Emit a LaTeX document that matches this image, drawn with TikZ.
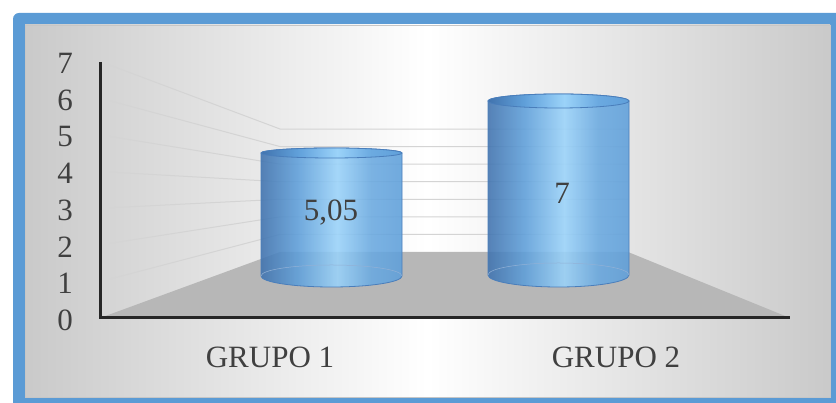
\documentclass[tikz,border=0pt]{standalone}
\usepackage{fontspec}
\setmainfont{Liberation Serif}
\usepackage{xcolor}
\usetikzlibrary{positioning}
\definecolor{FrameBlue}{HTML}{5B9BD5}
\definecolor{CylDark}{HTML}{3F72AE}
\definecolor{CylMid}{HTML}{5E9FDA}
\definecolor{CylLight}{HTML}{9AD3FA}
\definecolor{CylEdge}{HTML}{4A7EBB}
\definecolor{FloorGray}{HTML}{B7B7B7}
\definecolor{GridGray}{HTML}{D4D4D4}
\definecolor{TextDark}{HTML}{404040}
\pgfdeclarehorizontalshading{cylshade}{100bp}{color(0bp)=(CylDark); color(25bp)=(CylDark);
  color(38bp)=(CylMid); color(52bp)=(CylLight); color(64bp)=(CylMid!80!CylLight);
  color(75bp)=(CylMid); color(100bp)=(CylMid)}

\begin{document}
\begin{tikzpicture}[x=1pt,y=1pt,
    every node/.style={font=\fontsize{31}{36}\selectfont,text=TextDark,inner sep=0pt},
    gridln/.style={GridGray,line width=1pt},
    axisln/.style={black!85,line width=3pt},
    cyl/.style={shading=cylshade,draw=CylEdge,fill opacity=0.88,line width=0.8pt}]
  \clip (0,0) rectangle (836,403);
  \useasboundingbox (0,0) rectangle (836,403);
  % frame and panel
  \fill[FrameBlue,rounded corners=6pt] (13,-6) rectangle (842,390);
  \shade[left color=gray!42,right color=gray!42,middle color=white]
    (25,6) rectangle (830,378);
  \draw[gray!45,line width=0.6pt] (25,6) rectangle (830,378);
  % floor and walls
  \fill[FloorGray] (100,85) -- (280,151) -- (628,151) -- (790,85) -- cycle;
  \foreach \i in {1,...,7}
    \draw[gridln] (101,{85+36.6*\i}) -- (280,{151+17.57*\i}) -- (628,{151+17.57*\i});
  \draw[axisln] (100,341) -- (100,85) -- (790,85);
  \foreach \i in {0,...,7}
    \node (tick\i) at (65,{83+36.6*\i}) {\i};
  % bars
  \foreach \n/\cx/\yt/\rt/\yb/\rb in {1/331.5/250/5/127/11, 2/558.5/302/7/128/12}{
    \path[cyl] (\cx-70.5,\yt) -- (\cx-70.5,\yb)
      arc[start angle=180,end angle=360,x radius=70.5,y radius=\rb]
      -- (\cx+70.5,\yt)
      arc[start angle=0,end angle=180,x radius=70.5,y radius=\rt] -- cycle;
    \draw[CylEdge!60,line width=0.5pt] (\cx-70.5,\yb)
      arc[start angle=180,end angle=0,x radius=70.5,y radius=\rb];
    \path[cyl] (\cx,\yt) ellipse[x radius=70.5,y radius=\rt];
  }
  \node (val1) at (331,190) {5,05};
  \node (val2) at (562,210) {7};
  \node (grp1) at (270,46) {GRUPO 1};
  \node (grp2) at (616,46) {GRUPO 2};
\end{tikzpicture}
\end{document}
